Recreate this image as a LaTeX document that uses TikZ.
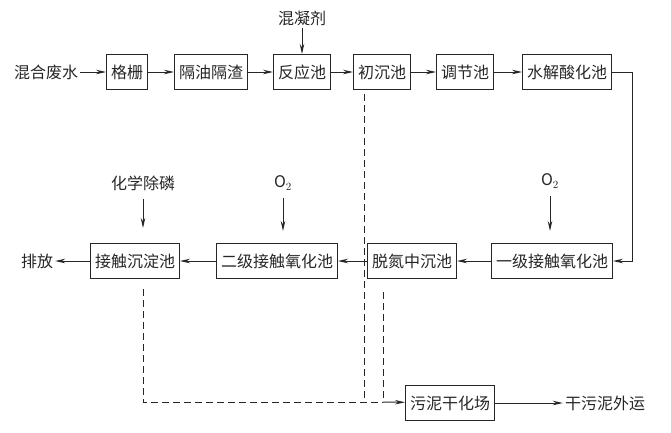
\documentclass[tikz,border=0pt]{standalone}
\usepackage{fontspec}
\setmainfont{Noto Sans CJK SC}
\usepackage{tikz}
\usetikzlibrary{arrows.meta,calc}

\tikzset{
  box/.style={draw, line width=1pt, inner xsep=4.5pt, inner ysep=0pt, minimum height=35pt},
  lbl/.style={inner sep=2pt},
  flow/.style={line width=1pt, -{Stealth[length=10pt,width=4.5pt]}},
  sludge/.style={line width=1pt, dash pattern=on 7pt off 4pt}
}

\begin{document}
\begin{tikzpicture}[x=1pt,y=-1pt,font=\fontsize{16}{18}\selectfont,color=black!85]
    \useasboundingbox (0,0) rectangle (671,432);
    % top row
    \node[lbl]  (src) at (46,72)  {混合废水};
    \node[box]  (gs)  at (127,72) {格栅};
    \node[box]  (gy)  at (211,72) {隔油隔渣};
    \node[box]  (fy)  at (302,72) {反应池};
    \node[box]  (cc)  at (382,72) {初沉池};
    \node[box]  (tj)  at (465,72) {调节池};
    \node[box]  (sj)  at (567,72) {水解酸化池};
    \node[lbl]  (hn)  at (302,18) {混凝剂};
    % bottom row
    \node[box]  (yj)  at (552,261) {一级接触氧化池};
    \node[box]  (tz)  at (412,261) {脱氮中沉池};
    \node[box]  (ej)  at (277,261) {二级接触氧化池};
    \node[box]  (jc)  at (135,261) {接触沉淀池};
    \node[lbl]  (pf)  at (37,261)  {排放};
    \node[lbl]  (o1)  at (550,181) {$\mathrm{O}_2$};
    \node[lbl]  (o2)  at (283,183) {$\mathrm{O}_2$};
    \node[lbl]  (hx)  at (143,183) {化学除磷};
    % sludge
    \node[box]  (wn)  at (450,403) {污泥干化场};
    \node[lbl]  (gw)  at (605,403) {干污泥外运};
    \coordinate (k1) at (364,402);
    \coordinate (k2) at (383,402);
    \coordinate (k3) at (143,402);

    \draw[flow] (src)--(gs);
    \draw[flow] (gs)--(gy);
    \draw[flow] (gy)--(fy);
    \draw[flow] (fy)--(cc);
    \draw[flow] (cc)--(tj);
    \draw[flow] (tj)--(sj);
    \draw[flow] (hn)--(fy);
    \draw[flow] (sj.east) -- ++(20,0) |- (yj.east);
    \draw[flow] (yj)--(tz);
    \draw[flow] (tz)--(ej);
    \draw[flow] (ej)--(jc);
    \draw[flow] (jc)--(pf);
    \draw[flow, shorten <=6pt, shorten >=12pt] (o1)--(yj.north -| o1);
    \draw[flow, shorten <=6pt, shorten >=12pt] (o2)--(ej.north -| o2);
    \draw[flow, shorten <=6pt, shorten >=15pt] (hx)--(jc.north -| hx);
    \draw[sludge] ($(cc.south -| k1)+(0,4)$) -- (k1);
    \draw[sludge] ($(jc.south -| k3)+(0,10)$) -- (k3) -- (k2);
    \draw[sludge] ($(tz.south -| k2)+(0,13)$) -- (k2);
    \draw[flow] (k2)--(wn);
    \draw[flow] (wn)--(gw);
\end{tikzpicture}
\end{document}
